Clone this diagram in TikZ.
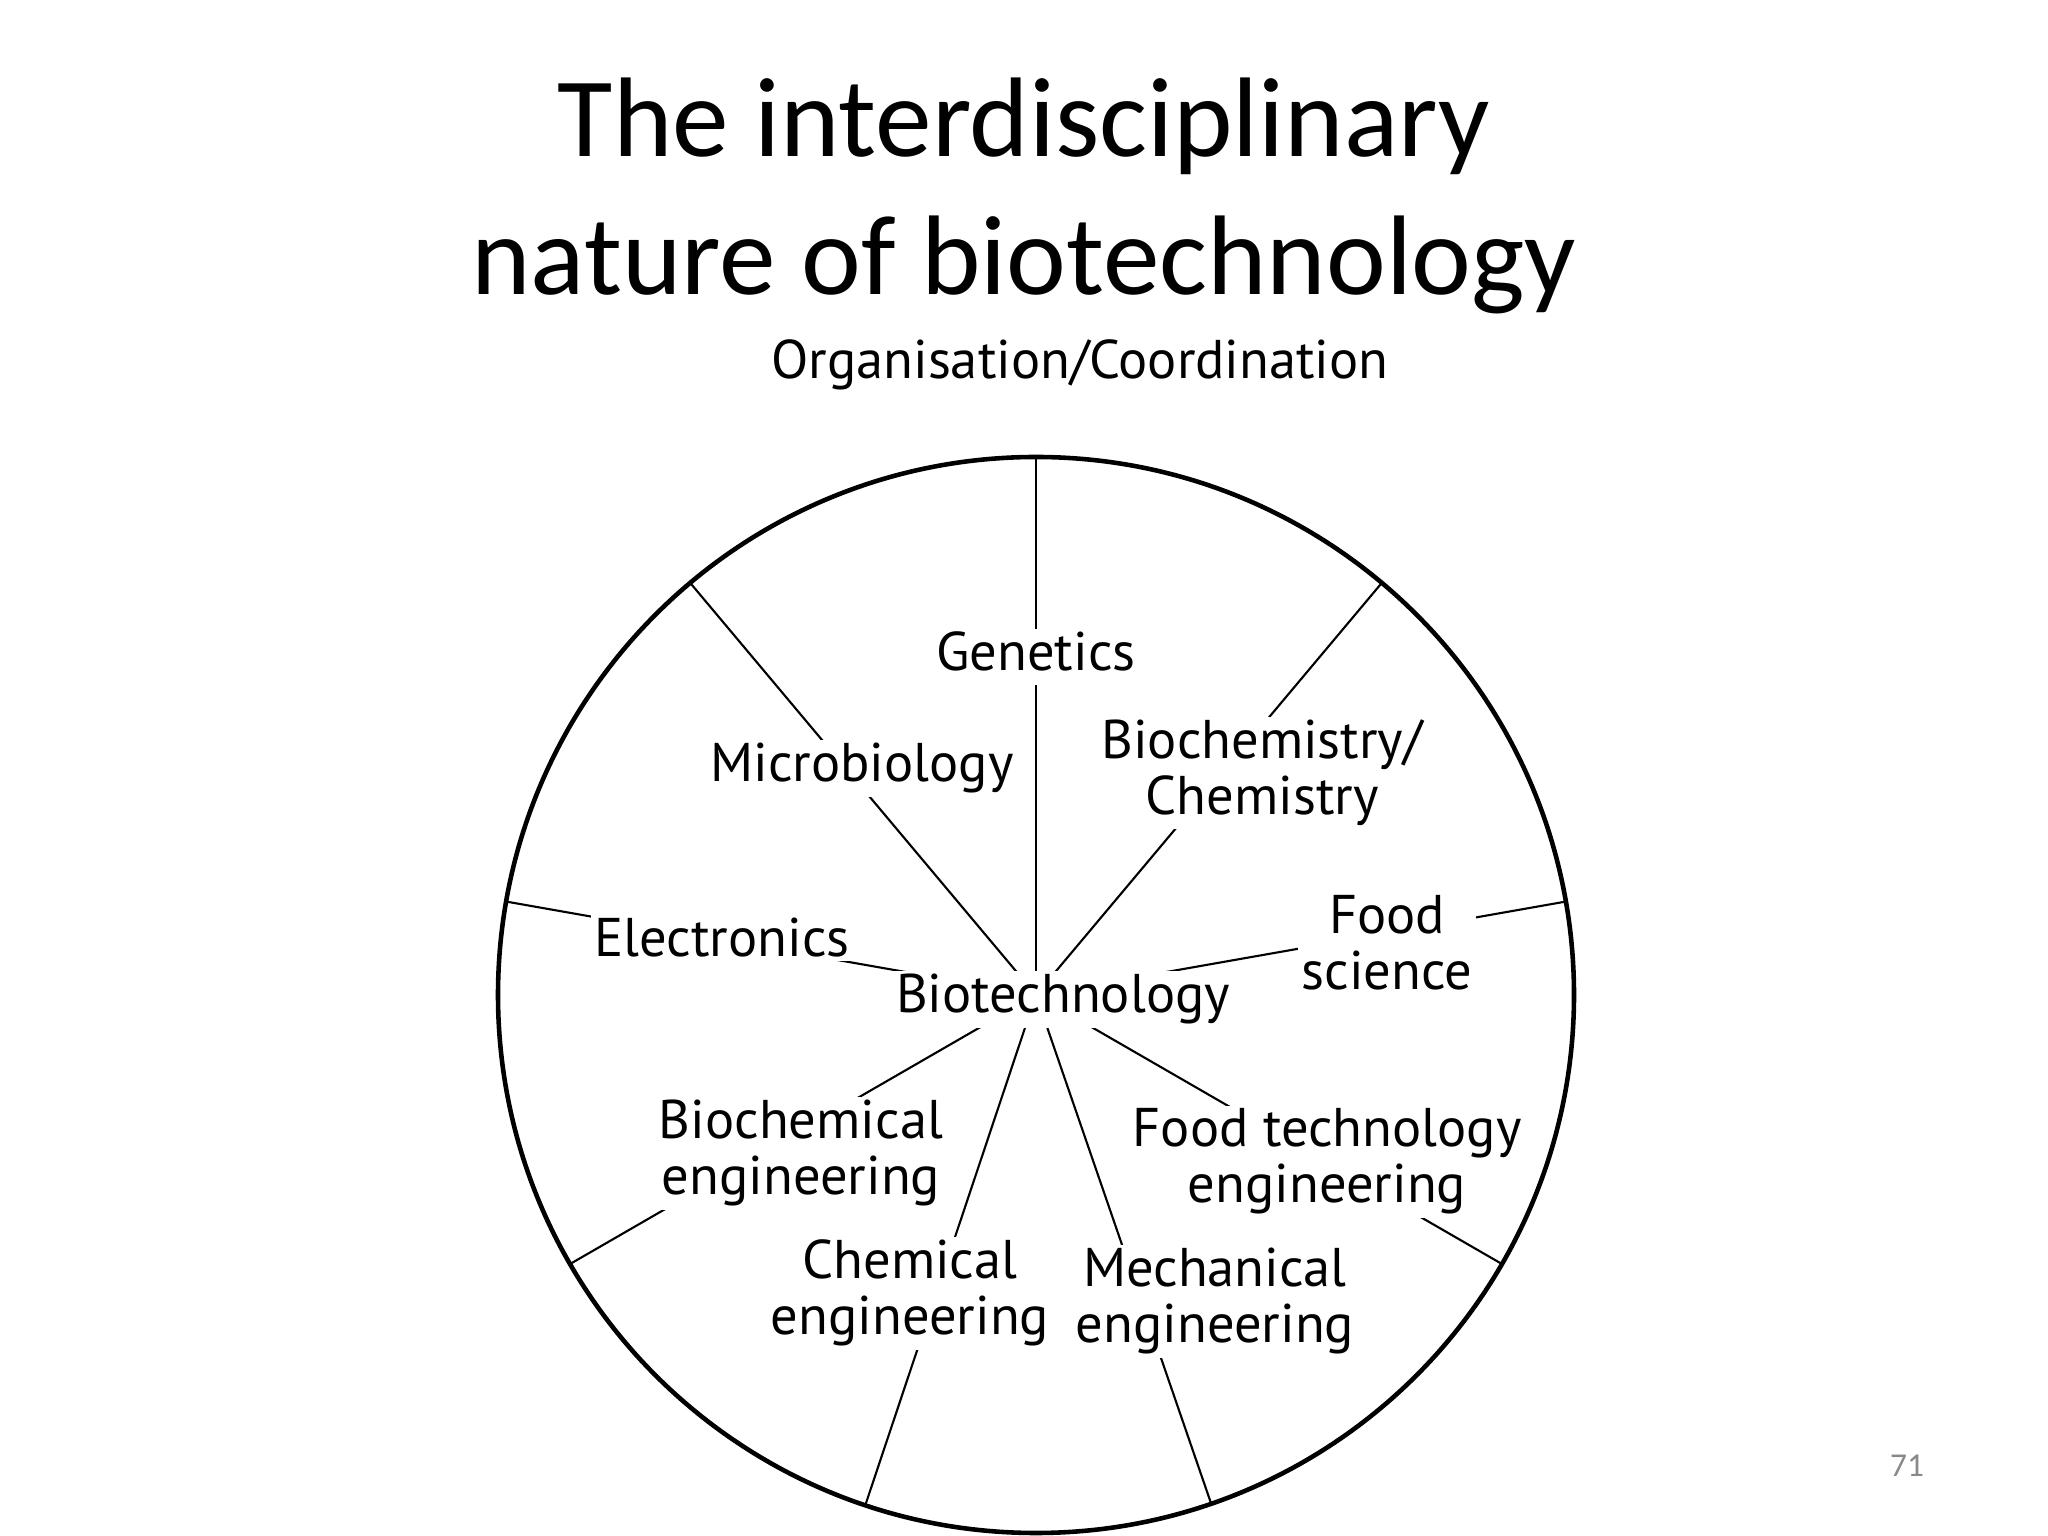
\documentclass[tikz,border=0pt]{standalone}
\usepackage{fontspec}
\setmainfont{Carlito}
\newfontfamily\figfont{PT Sans}
\usepackage{xcolor}
\definecolor{slideGrey}{RGB}{137, 137, 137}

\begin{document}
\begin{tikzpicture}
    [
		x=0.01cm, y=0.01cm,
		field/.style={
			fill=white, align=center, anchor=base, inner xsep=0.04cm, inner ysep=0.03cm,
			font=\figfont\fontsize{15.5}{16}\selectfont
		},
		heading/.style={
			align=center, anchor=base, font=\fontsize{32.2}{39.4}\selectfont
		},
		spoke/.style={semithick},
		wheel/.style={line width=1.3pt}
	]

\path [use as bounding box, fill=white] (0, 0) rectangle (2048, 1536);

% Title
\node (title) [heading] at (1024, 1241) {The interdisciplinary\\nature of biotechnology};
\node (pagenum) [anchor=base, text=slideGrey, font=\fontsize{9.5}{11}\selectfont] at (1907, 59) {71};

% Spokes
\coordinate (hub) at (1036, 541);
\foreach \ang in {90, 50, 10, -30, -71, -108.5, -150, 170, 130}
	\draw [spoke] (hub) -- ++(\ang:538);

% Nodes
\node (org) [field] at (1080, 1157) {Organisation/Coordination};
\node (gen) [field, text depth=0.3em] at (1036, 865) {Genetics};
\node (micro) [field] at (862, 754) {Microbiology};
\node (biochem) [field] at (1262, 721) {Biochemistry/\\Chemistry};
\node (foodsci) [field] at (1387, 546) {Food\\science};
\node (elec) [field] at (722, 579) {Electronics};
\node (bio) [field] at (1063, 523) {Biotechnology};
\node (bioeng) [field] at (801, 341) {Biochemical\\engineering};
\node (foodtech) [field] at (1327, 333) {Food technology\\engineering};
\node (chemeng) [field] at (910, 201) {Chemical\\engineering};
\node (mecheng) [field] at (1215, 193) {Mechanical\\engineering};

% Rim
\draw [wheel] (hub) circle (538);

\end{tikzpicture}
\end{document}
